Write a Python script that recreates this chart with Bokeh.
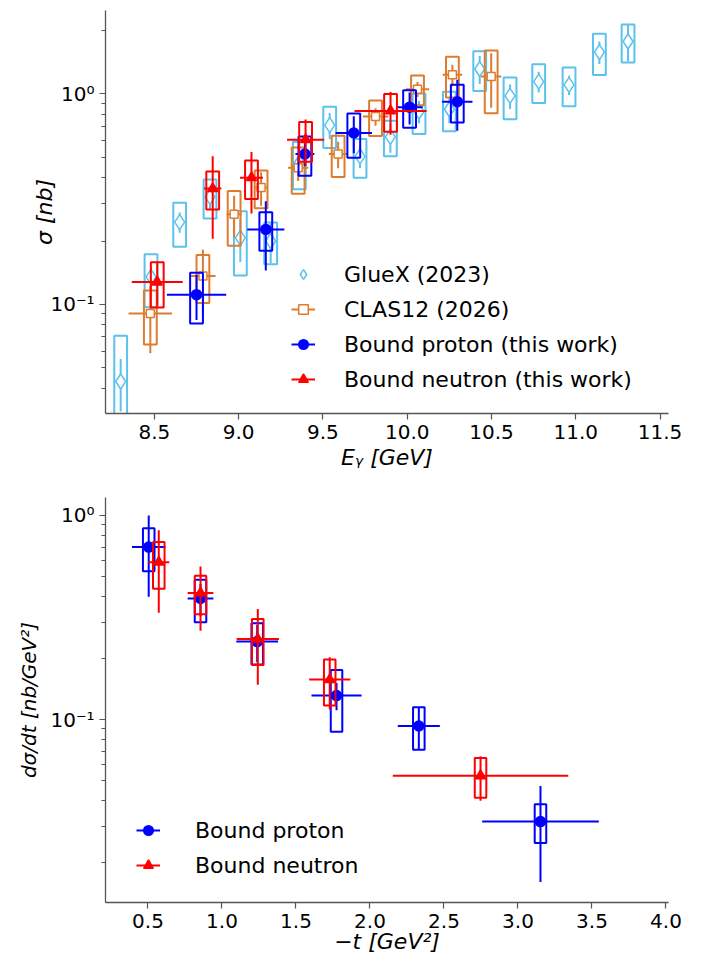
import numpy as np
from bokeh.plotting import figure
from bokeh.layouts import column
from bokeh.models import ColumnDataSource, FixedTicker, Legend, LegendItem, Range1d
from bokeh.embed import file_html
from bokeh.resources import INLINE

# ---------------- total cross section vs photon energy ----------------
gluex_E = [8.30, 8.48, 8.65, 8.83, 9.01, 9.19, 9.36, 9.54, 9.72, 9.90,
           10.07, 10.25, 10.43, 10.61, 10.78, 10.96, 11.14, 11.31]
gluex_sigma = [0.043, 0.135, 0.246, 0.324, 0.207, 0.200, 0.472, 0.711, 0.505, 0.625,
               0.825, 0.845, 1.313, 0.978, 1.144, 1.104, 1.580, 1.774]
gluex_stat = [0.012, 0.015, 0.027, 0.040, 0.048, 0.043, 0.060, 0.100, 0.060, 0.100,
              0.100, 0.120, 0.200, 0.130, 0.130, 0.115, 0.195, 0.350]
gluex_sys = [0.028, 0.038, 0.058, 0.068, 0.070, 0.045, 0.120, 0.158, 0.105, 0.120,
             0.180, 0.180, 0.280, 0.220, 0.240, 0.230, 0.350, 0.365]

clas_E = [8.476, 8.788, 8.973, 9.133, 9.353, 9.590, 9.812, 10.061, 10.268, 10.498]
clas_Eerr = [0.129, 0.075, 0.045, 0.040, 0.060, 0.055, 0.075, 0.069, 0.058, 0.060]
clas_sigma = [0.0905, 0.1364, 0.268, 0.3595, 0.4457, 0.518, 0.780, 1.053, 1.232, 1.209]
clas_stat = [0.032, 0.046, 0.060, 0.065, 0.060, 0.075, 0.075, 0.087, 0.145, 0.350]
clas_sys = [0.026, 0.035, 0.078, 0.073, 0.110, 0.115, 0.150, 0.170, 0.270, 0.400]

proton_E = [8.750, 9.161, 9.393, 9.683, 10.014, 10.297]
proton_Eerr = [0.176, 0.110, 0.056, 0.108, 0.078, 0.090]
proton_sigma = [0.1112, 0.227, 0.518, 0.652, 0.865, 0.918]
proton_stat = [0.027, 0.082, 0.065, 0.130, 0.150, 0.250]
proton_sys = [0.030, 0.047, 0.110, 0.155, 0.175, 0.187]

neutron_E = [8.517, 8.846, 9.076, 9.397, 9.901]
neutron_Eerr = [0.151, 0.051, 0.068, 0.110, 0.214]
neutron_sigma = [0.1277, 0.355, 0.400, 0.606, 0.830]
neutron_stat = [0.030, 0.150, 0.130, 0.150, 0.190]
neutron_sys = [0.031, 0.073, 0.083, 0.130, 0.170]

# ---------------- differential cross section vs -t ----------------
proton_t = [0.505, 0.855, 1.238, 1.774, 2.330, 3.152]
proton_terr = [0.113, 0.087, 0.141, 0.169, 0.142, 0.394]
proton_dsdt = [0.700, 0.392, 0.241, 0.131, 0.0930, 0.0316]
proton_dsdt_stat = [0.300, 0.070, 0.050, 0.020, 0.022, 0.0156]
proton_dsdt_sys = [0.167, 0.092, 0.055, 0.044, 0.022, 0.0068]

neutron_t = [0.573, 0.855, 1.242, 1.728, 2.747]
neutron_terr = [0.071, 0.087, 0.143, 0.139, 0.593]
neutron_dsdt = [0.590, 0.417, 0.248, 0.1570, 0.0530]
neutron_dsdt_stat = [0.256, 0.145, 0.100, 0.045, 0.013]
neutron_dsdt_sys = [0.152, 0.089, 0.063, 0.040, 0.0117]

energy_ticks = [8.5, 9.0, 9.5, 10.0, 10.5, 11.0, 11.5]
energy_tick_labels = ["8.5", "9.0", "9.5", "10.0", "10.5", "11.0", "11.5"]
t_ticks = [0.5, 1.0, 1.5, 2.0, 2.5, 3.0, 3.5, 4.0]
t_tick_labels = ["0.5", "1.0", "1.5", "2.0", "2.5", "3.0", "3.5", "4.0"]
decade_ticks = [0.1, 1.0]
decade_labels = ["10\u207b\u00b9", "10\u2070"]

GLUEX = "#5bc2ec"
CLAS = "#dd7c2e"
PROTON = "#0000ff"
NEUTRON = "#ff0000"
FONT = "DejaVu Sans"
AXIS_GREY = "#555555"


def draw_series(p, x, y, stat, sys, color, marker, size, fill,
                xerr=None, box_half=0.038, lw=2.0):
    """Systematic box, statistical error bars and the marker for one data set."""
    x = np.asarray(x, float)
    y = np.asarray(y, float)
    stat = np.asarray(stat, float)
    sys = np.asarray(sys, float)
    data = dict(x=x, y=y,
                left=x - box_half, right=x + box_half,
                top=y + sys, bottom=y - sys,
                ylo=y - stat, yhi=y + stat)
    if xerr is not None:
        xerr = np.asarray(xerr, float)
        data.update(xlo=x - xerr, xhi=x + xerr)
    src = ColumnDataSource(data)
    p.quad(left="left", right="right", top="top", bottom="bottom", source=src,
           fill_color=None, line_color=color, line_width=lw)
    p.segment(x0="x", y0="ylo", x1="x", y1="yhi", source=src,
              line_color=color, line_width=lw)
    hbar = None
    if xerr is not None:
        hbar = p.segment(x0="xlo", y0="y", x1="xhi", y1="y", source=src,
                         line_color=color, line_width=lw)
    dots = p.scatter(x="x", y="y", source=src, marker=marker, size=size,
                     fill_color=fill, line_color=color, line_width=1.5)
    return [r for r in (hbar, dots) if r is not None]


def style_axes(p, x_ticks, x_labels, minor_y, xlabel, ylabel,
               xstand, ystand, ysize="22px"):
    p.xaxis.ticker = FixedTicker(ticks=x_ticks, minor_ticks=[])
    p.xaxis.major_label_overrides = dict(zip(x_ticks, x_labels))
    p.yaxis.ticker = FixedTicker(ticks=decade_ticks, minor_ticks=minor_y)
    p.yaxis.major_label_overrides = dict(zip(decade_ticks, decade_labels))
    for ax in (p.xaxis[0], p.yaxis[0]):
        ax.axis_line_color = AXIS_GREY
        ax.axis_line_width = 1.3
        ax.major_tick_line_color = AXIS_GREY
        ax.minor_tick_line_color = AXIS_GREY
        ax.major_tick_line_width = 1.2
        ax.minor_tick_line_width = 1.0
        ax.major_tick_out = 6
        ax.major_tick_in = 0
        ax.minor_tick_out = 4
        ax.minor_tick_in = 0
        ax.major_label_text_font = FONT
        ax.major_label_text_font_size = "20px"
        ax.major_label_text_color = "black"
        ax.major_label_standoff = 5
        ax.axis_label_text_font = FONT
        ax.axis_label_text_font_style = "italic"
        ax.axis_label_text_color = "black"
    p.xaxis.axis_label = xlabel
    p.xaxis.axis_label_text_font_size = "22px"
    p.xaxis.axis_label_standoff = xstand
    p.yaxis.axis_label = ylabel
    p.yaxis.axis_label_text_font_size = ysize
    p.yaxis.axis_label_standoff = ystand
    p.grid.visible = False
    p.outline_line_color = None
    p.background_fill_color = "white"
    p.border_fill_color = "white"


def make_legend(items, loc, standoff):
    return Legend(items=items, location=loc, glyph_width=24, glyph_height=30,
                  spacing=5, padding=0, margin=0, label_standoff=standoff,
                  label_text_font=FONT, label_text_font_size="22px",
                  label_text_color="black", border_line_color=None,
                  background_fill_alpha=0)


log_minor = [m * 10.0 ** e for e in (-2, -1, 0) for m in range(2, 10)]

# ---------------- upper panel: sigma vs E_gamma ----------------
top = figure(width=705, height=478, title=None, toolbar_location=None,
             output_backend="svg", y_axis_type="log",
             x_range=Range1d(8.21, 11.55), y_range=Range1d(0.0303, 2.49),
             min_border_left=102, min_border_right=15,
             min_border_top=10, min_border_bottom=65)
style_axes(top, energy_ticks, energy_tick_labels, log_minor,
           "E\u1d67 [GeV]", "\u03c3 [nb]", 3, -10)

g_r = draw_series(top, gluex_E, gluex_sigma, gluex_stat, gluex_sys, GLUEX,
                  "diamond", 15, "white")
c_r = draw_series(top, clas_E, clas_sigma, clas_stat, clas_sys, CLAS,
                  "square", 8, "white", xerr=clas_Eerr)
p_r = draw_series(top, proton_E, proton_sigma, proton_stat, proton_sys, PROTON,
                  "circle", 10, PROTON, xerr=proton_Eerr)
n_r = draw_series(top, neutron_E, neutron_sigma, neutron_stat, neutron_sys, NEUTRON,
                  "triangle", 10, NEUTRON, xerr=neutron_Eerr)

top.add_layout(make_legend([
    LegendItem(label="GlueX (2023)", renderers=g_r),
    LegendItem(label="CLAS12 (2026)", renderers=c_r),
    LegendItem(label="Bound proton (this work)", renderers=p_r),
    LegendItem(label="Bound neutron (this work)", renderers=n_r),
], (186, 19), 29))

# ---------------- lower panel: dsigma/dt vs -t ----------------
bottom = figure(width=705, height=478, title=None, toolbar_location=None,
                output_backend="svg", y_axis_type="log",
                x_range=Range1d(0.213, 4.017), y_range=Range1d(0.01268, 1.225),
                min_border_left=105, min_border_right=37,
                min_border_top=19, min_border_bottom=54)
style_axes(bottom, t_ticks, t_tick_labels, log_minor,
           "\u2212t [GeV\u00b2]", "d\u03c3/dt [nb/GeV\u00b2]", -2, 6, ysize="20px")

bp_r = draw_series(bottom, proton_t, proton_dsdt, proton_dsdt_stat, proton_dsdt_sys,
                   PROTON, "circle", 10, PROTON, xerr=proton_terr, box_half=0.039)
bn_r = draw_series(bottom, neutron_t, neutron_dsdt, neutron_dsdt_stat, neutron_dsdt_sys,
                   NEUTRON, "triangle", 10, NEUTRON, xerr=neutron_terr, box_half=0.039)

bottom.add_layout(make_legend([
    LegendItem(label="Bound proton", renderers=bp_r),
    LegendItem(label="Bound neutron", renderers=bn_r),
], (31, 22), 35))

layout = column(top, bottom)
open("out.html", "w").write(file_html(layout, INLINE))
